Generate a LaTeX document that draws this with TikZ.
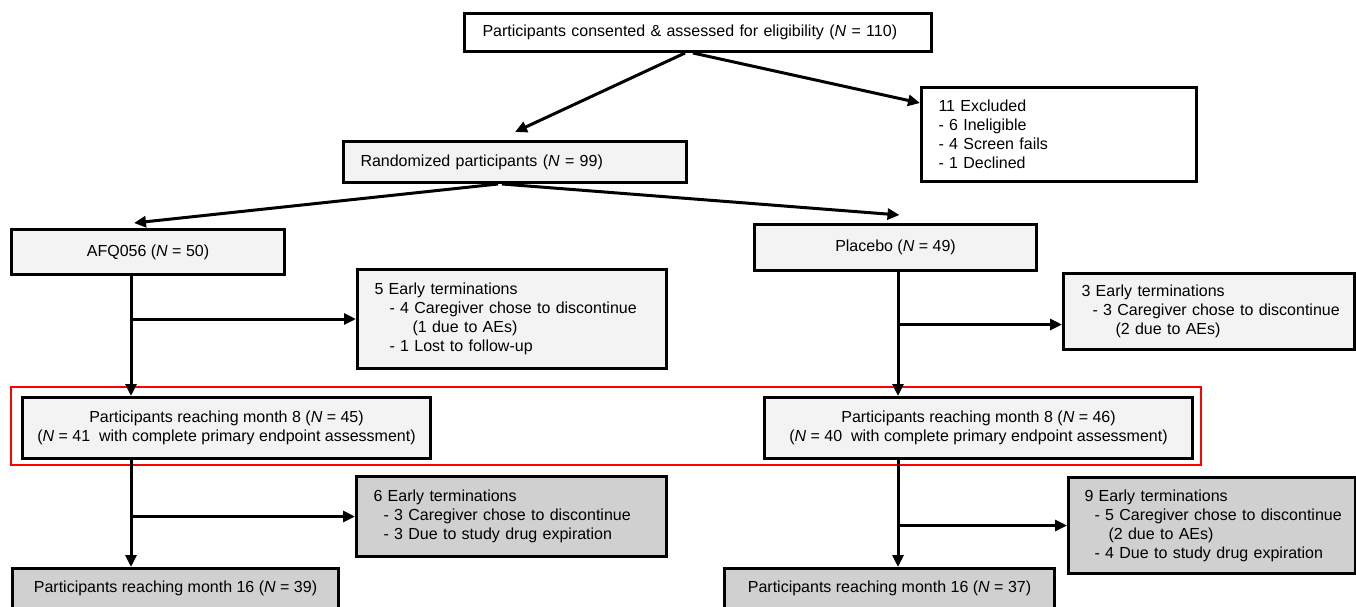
\documentclass[tikz,border=0pt]{standalone}
\usepackage{fontspec}
\setmainfont{Liberation Sans}
\usetikzlibrary{calc,arrows.meta}

\definecolor{boxlight}{HTML}{F3F3F3}
\definecolor{boxdark}{HTML}{D0D0D0}
\definecolor{markred}{HTML}{FF0000}
\newcommand{\Nit}{\textit{N}}

\begin{document}
\begin{tikzpicture}[x=1pt,y=-1pt,
    box/.style={draw,line width=3pt,inner sep=0pt,anchor=north west,
      font=\fontsize{16}{19}\selectfont},
    light/.style={box,fill=boxlight},
    dark/.style={box,fill=boxdark},
    flow/.style={line width=3pt,-{Triangle[length=12pt,width=11pt]}},
  ]
    \useasboundingbox (0,0) rectangle (1356,606);
    % Trunk lines of the two arms
    \coordinate (tl) at (131,0);
    \coordinate (tr) at (898,0);

    % Screening and randomization
    \node[box,fill=white,align=left,inner xsep=18pt,text width=431pt,minimum height=38pt] (elig) at (463,12)
        {Participants consented \& assessed for eligibility (\Nit{} = 110)};
    \node[box,fill=white,align=left,inner xsep=17pt,text width=241pt,minimum height=94pt] (excl) at (920,86)
        {11 Excluded\\- 6 Ineligible\\- 4 Screen fails\\- 1 Declined};
    \node[light,align=left,inner xsep=17pt,text width=309pt,minimum height=41pt] (rand) at (342,140)
        {Randomized participants (\Nit{} = 99)};
    \node[light,minimum width=273pt,minimum height=45pt] (afq) at (10,228) {AFQ056 (\Nit{} = 50)};
    \node[light,minimum width=282pt,minimum height=46pt] (plac) at (753,223) {Placebo (\Nit{} = 49)};

    % First period
    \node[light,align=left,inner xsep=17pt,text width=275pt,minimum height=99pt] (early1) at (356,268)
        {5 Early terminations\\\hspace*{15pt}\mbox{- 4 Caregiver chose to discontinue}\\
         \hspace*{38pt}(1 due to AEs)\\\hspace*{15pt}- 1 Lost to follow-up};
    \node[light,align=left,inner xsep=18pt,text width=255pt,minimum height=76pt] (early2) at (1062,272)
        {3 Early terminations\\\hspace*{11pt}\mbox{- 3 Caregiver chose to discontinue}\\
         \hspace*{34pt}(2 due to AEs)};
    \node[light,minimum width=408pt,minimum height=61pt,align=center] (m8L) at (21,396)
        {Participants reaching month 8 (\Nit{} = 45)\\(\Nit{} = 41 \ with complete primary endpoint assessment)};
    \node[light,minimum width=428pt,minimum height=61pt,align=center] (m8R) at (763,396)
        {Participants reaching month 8 (\Nit{} = 46)\\(\Nit{} = 40 \ with complete primary endpoint assessment)};

    % Second period
    \node[dark,align=left,inner xsep=17pt,text width=276pt,minimum height=80pt] (early3) at (355,475)
        {6 Early terminations\\\hspace*{10pt}\mbox{- 3 Caregiver chose to discontinue}\\
         \hspace*{10pt}- 3 Due to study drug expiration};
    \node[dark,align=left,inner xsep=16pt,text width=255pt,minimum height=96pt] (early4) at (1067,476)
        {9 Early terminations\\\hspace*{10pt}\mbox{- 5 Caregiver chose to discontinue}\\
         \hspace*{24pt}(2 due to AEs)\\\hspace*{10pt}- 4 Due to study drug expiration};
    \node[dark,minimum width=326pt,inner ysep=0pt,text height=23.8pt,text depth=18.2pt] (m16L) at (11,567)
        {Participants reaching month 16 (\Nit{} = 39)};
    \node[dark,minimum width=330pt,inner ysep=0pt,text height=23.8pt,text depth=18.2pt] (m16R) at (723,567)
        {Participants reaching month 16 (\Nit{} = 37)};

    % Highlight of the primary endpoint
    \draw[markred,line width=2.4pt] (11,387) rectangle (1201,465);

    % Draw arrows
    \draw[flow] ($(elig.south)+(-13,0)$) -- ($(rand.north)+(0,-8)$);
    \draw[flow] ($(elig.south)+(-5,0)$) -- ($(excl.north west)+(0,17)$);
    \draw[flow] ($(rand.south)+(-17,0)$) -- ($(afq.north)+(-14,-5)$);
    \draw[flow] ($(rand.south)+(-13,0)$) -- ($(plac.north)+(4,-8)$);
    \draw[flow] (tl |- afq.south) -- (tl |- m8L.north);
    \draw[flow] (tl |- early1.west) -- (early1.west);
    \draw[flow] (tr |- plac.south) -- (tr |- m8R.north);
    \draw[flow] ($(tr |- early2.west)+(0,13)$) -- ($(early2.west)+(0,13)$);
    \draw[flow] (tl |- m8L.south) -- (tl |- m16L.north);
    \draw[flow] (tl |- early3.west) -- (early3.west);
    \draw[flow] (tr |- m8R.south) -- (tr |- m16R.north);
    \draw[flow] (tr |- early4.west) -- (early4.west);
\end{tikzpicture}
\end{document}
